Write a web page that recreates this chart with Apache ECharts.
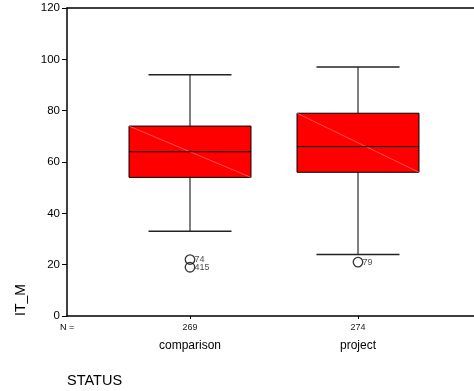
<!DOCTYPE html>
<html>
<head>
<meta charset="utf-8">
<script src="https://cdn.jsdelivr.net/npm/echarts@6/dist/echarts.min.js"></script>
<style>html,body{margin:0;padding:0;background:#fff;}#c{width:474px;height:391px;}</style>
</head>
<body>
<div id="c"></div>
<script>
const categories = ['comparison', 'project'];
const counts = [269, 274];
const lowerWhisker = [33, 24];
const q1 = [54, 56];
const median = [64, 66];
const q3 = [74, 79];
const upperWhisker = [94, 97];
const outlierCategory = [0, 0, 1];
const outlierValue = [22, 19, 21];
const outlierCase = ['74', '415', '79'];
const yTicks = [0, 20, 40, 60, 80, 100, 120];

const FONT = '"Liberation Sans", Arial, sans-serif';
const boxData = categories.map((c, i) => [i + 1, lowerWhisker[i], q1[i], median[i], q3[i], upperWhisker[i]]);
const outData = outlierValue.map((v, i) => [outlierCategory[i] + 1, v, outlierCase[i]]);

const xMin = 1 - 123 / 168, xMax = xMin + 407 / 168;

const chart = echarts.init(document.getElementById('c'), null, {renderer: 'canvas'});
chart.setOption({
  animation: false,
  backgroundColor: '#fff',
  grid: {left: 67, top: 8, right: 0, bottom: 75, containLabel: false},
  xAxis: [{
    type: 'value', min: xMin, max: xMax, position: 'bottom',
    axisLine: {show: true, lineStyle: {color: '#000', width: 1.5}},
    axisTick: {show: true, customValues: [1, 2], length: 3, lineStyle: {color: '#000'}},
    axisLabel: {
      show: true, customValues: [1, 2], margin: 6,
      formatter: v => { const i = Math.round(v) - 1; return '{n|' + counts[i] + '}\n{c|' + categories[i] + '}'; },
      rich: {
        n: {fontSize: 9, lineHeight: 12, fontFamily: FONT, color: '#222'},
        c: {fontSize: 12, lineHeight: 23, fontFamily: FONT, color: '#000'}
      }
    },
    splitLine: {show: false}
  }, {
    type: 'value', min: xMin, max: xMax, position: 'top',
    axisLine: {show: true, onZero: false, lineStyle: {color: '#000', width: 1.5}},
    axisTick: {show: false}, axisLabel: {show: false}, splitLine: {show: false}
  }],
  yAxis: {
    type: 'value', min: 0, max: 120, interval: 20,
    axisLine: {show: true, lineStyle: {color: '#000', width: 1.5}},
    axisTick: {show: true, length: 5, lineStyle: {color: '#000'}},
    axisLabel: {fontSize: 11.5, fontFamily: FONT, color: '#000', margin: 7,
      formatter: v => yTicks.includes(v) ? String(v) : ''},
    splitLine: {show: false}
  },
  graphic: [
    {type: 'text', left: 60, top: 323, style: {text: 'N =', fontSize: 9, fontFamily: FONT, fill: '#000'}},
    {type: 'text', x: 21, y: 300, rotation: Math.PI / 2, style: {text: 'IT_M', fontSize: 14, fontFamily: FONT, fill: '#000', align: 'center', verticalAlign: 'middle'}},
    {type: 'text', left: 67, top: 373, style: {text: 'STATUS', fontSize: 14.5, fontFamily: FONT, fill: '#000'}}
  ],
  series: [{
    type: 'custom',
    data: boxData,
    encode: {x: 0, y: [1, 2, 3, 4, 5]},
    renderItem: function (params, api) {
      const x = api.value(0);
      const unit = api.size([1, 0])[0];
      const hb = unit * 0.363, hc = unit * 0.247;
      const pLW = api.coord([x, api.value(1)]);
      const pQ1 = api.coord([x, api.value(2)]);
      const pMd = api.coord([x, api.value(3)]);
      const pQ3 = api.coord([x, api.value(4)]);
      const pUW = api.coord([x, api.value(5)]);
      const cx = pMd[0];
      const black = {stroke: '#000', lineWidth: 1};
      return {type: 'group', children: [
        {type: 'line', shape: {x1: cx, y1: pUW[1], x2: cx, y2: pQ3[1]}, style: black},
        {type: 'line', shape: {x1: cx, y1: pQ1[1], x2: cx, y2: pLW[1]}, style: black},
        {type: 'line', shape: {x1: cx - hc, y1: pUW[1], x2: cx + hc, y2: pUW[1]}, style: {stroke: '#222', lineWidth: 1.5}},
        {type: 'line', shape: {x1: cx - hc, y1: pLW[1], x2: cx + hc, y2: pLW[1]}, style: {stroke: '#222', lineWidth: 1.5}},
        {type: 'rect', shape: {x: cx - hb, y: pQ3[1], width: 2 * hb, height: pQ1[1] - pQ3[1]}, style: {fill: '#ff0000', stroke: '#000', lineWidth: 1}},
        {type: 'line', shape: {x1: cx - hb, y1: pQ3[1], x2: cx + hb, y2: pQ1[1]}, style: {stroke: 'rgba(255,170,170,0.8)', lineWidth: 0.6}},
        {type: 'line', shape: {x1: cx - hb, y1: pMd[1], x2: cx + hb, y2: pMd[1]}, style: black}
      ]};
    },
    z: 2
  }, {
    type: 'scatter',
    data: outData,
    encode: {x: 0, y: 1},
    symbol: 'circle', symbolSize: 9.5,
    itemStyle: {color: 'rgba(255,255,255,0)', borderColor: '#000', borderWidth: 1.3},
    label: {show: true, position: 'right', distance: -1, fontSize: 9, fontFamily: FONT, color: '#222',
      formatter: p => p.data[2]},
    z: 3
  }]
});
</script>
</body>
</html>
